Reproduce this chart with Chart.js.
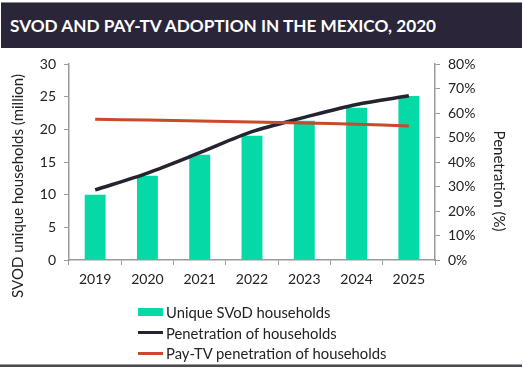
<!DOCTYPE html>
<html lang="en">
<head>
<meta charset="UTF-8">
<title>SVOD and Pay-TV adoption in Mexico</title>
<script src="https://cdn.jsdelivr.net/npm/chart.js"></script>
<style>
  html, body { margin: 0; padding: 0; background: #fff; }
  #wrap { position: relative; width: 523px; height: 369px; overflow: hidden; font-family: Lato, "Open Sans", sans-serif; }
  #bottomline { position: absolute; left: 0; top: 364px; width: 522px; height: 2px; background: #4a4a52; border-top: 1px solid #9a9aa0; }
  #title { position: absolute; left: 1px; top: 2px; width: 521px; height: 46px; background: #2a2538; border-top: 1px solid #8a8a90;
           color: #fff; font-weight: bold; font-size: 17.2px; line-height: 45px; padding-left: 9px; box-sizing: border-box; }
  #chart { position: absolute; left: 0; top: 0; }
  #legend { position: absolute; left: 138px; top: 302px; font-size: 14.8px; color: #222; }
  .row { height: 20.5px; display: flex; align-items: center; }
  .sw { width: 25px; margin-right: 3px; }
</style>
</head>
<body>
<div id="wrap">
  <canvas id="chart" width="523" height="369"></canvas>
  <div id="title">SVOD AND PAY-TV ADOPTION IN THE MEXICO, 2020</div>
  <div id="legend"></div>
  <div id="bottomline"></div>
</div>
<script>
// years on the x axis
const years = ['2019', '2020', '2021', '2022', '2023', '2024', '2025'];
// unique SVoD households, million (left axis)
const svodHouseholds = [10.0, 12.9, 16.1, 19.0, 21.3, 23.3, 25.1];
// penetration of households, % (right axis)
const penetration = [28.6, 35.5, 43.8, 52.4, 58.2, 63.5, 67.0];
// pay-TV penetration of households, % (right axis)
const payTvPenetration = [57.4, 57.1, 56.7, 56.3, 55.9, 55.4, 54.7];

const seriesNames = ['Unique SVoD households', 'Penetration of households', 'Pay-TV penetration of households'];
const colors = ['#05d9a5', '#24232f', '#c8492b'];

const font = { family: 'Lato, "Open Sans", sans-serif', size: 14 };
const axisGray = '#9a9a9a';

// draw the two rotated axis titles where the original has them
const axisTitles = {
  id: 'axisTitles',
  afterDraw(chart) {
    const c = chart.ctx;
    c.save();
    c.fillStyle = '#222';
    c.font = '15px Lato, "Open Sans", sans-serif';
    c.textAlign = 'center';
    c.textBaseline = 'middle';
    c.translate(18, 186);
    c.rotate(-Math.PI / 2);
    c.fillText('SVOD unique households (million)', 0, 0);
    c.restore();
    c.save();
    c.fillStyle = '#222';
    c.font = '15px Lato, "Open Sans", sans-serif';
    c.textAlign = 'center';
    c.textBaseline = 'middle';
    c.translate(499, 181);
    c.rotate(Math.PI / 2);
    c.fillText('Penetration (%)', 0, 0);
    c.restore();
  }
};

new Chart(document.getElementById('chart'), {
  data: {
    labels: years,
    datasets: [
      {
        type: 'line', label: seriesNames[2], data: payTvPenetration, yAxisID: 'y1',
        borderColor: colors[2], borderWidth: 3, pointRadius: 0, tension: 0.3, order: 0
      },
      {
        type: 'line', label: seriesNames[1], data: penetration, yAxisID: 'y1',
        borderColor: colors[1], borderWidth: 3.5, pointRadius: 0, tension: 0.3, order: 1
      },
      {
        type: 'bar', label: seriesNames[0], data: svodHouseholds, yAxisID: 'y',
        backgroundColor: colors[0], barPercentage: 0.8, categoryPercentage: 0.5, order: 2
      }
    ]
  },
  options: {
    responsive: false,
    animation: false,
    layout: { padding: { top: 64, left: 0, right: 0, bottom: 0 } },
    plugins: { legend: { display: false }, tooltip: { enabled: false } },
    scales: {
      x: {
        offset: true,
        grid: { display: true, drawOnChartArea: false, drawTicks: true, tickLength: 5, color: axisGray, offset: true },
        border: { color: axisGray, width: 1.5 },
        ticks: { color: '#222', font: font, padding: 6, maxRotation: 0 },
        afterFit(s) { s.height = 369 - 260; }
      },
      y: {
        position: 'left', min: 0, max: 30,
        ticks: { stepSize: 5, color: '#222', font: font, padding: 8 },
        grid: { drawOnChartArea: false, drawTicks: true, tickLength: 5, color: axisGray },
        border: { color: axisGray, width: 1.5 },
        afterFit(s) { s.width = 69; }
      },
      y1: {
        position: 'right', min: 0, max: 80,
        ticks: { stepSize: 10, color: '#222', font: font, padding: 8, callback: v => v + '%' },
        grid: { drawOnChartArea: false, drawTicks: true, tickLength: 5, color: axisGray },
        border: { color: axisGray, width: 1.5 },
        afterFit(s) { s.width = 523 - 435; }
      }
    }
  },
  plugins: [axisTitles]
});

// legend rows built from the same names and colours
const legend = document.getElementById('legend');
seriesNames.forEach((name, i) => {
  const row = document.createElement('div');
  row.className = 'row';
  const sw = document.createElement('span');
  sw.className = 'sw';
  sw.style.background = colors[i];
  sw.style.height = i === 0 ? '8px' : '3px';
  row.appendChild(sw);
  row.appendChild(document.createTextNode(name));
  legend.appendChild(row);
});
</script>
</body>
</html>
